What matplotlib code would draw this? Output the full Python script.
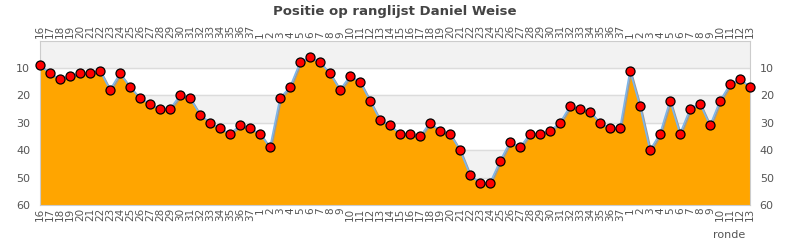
import numpy as np
import matplotlib.pyplot as plt

# rondes over drie seizoenen
rondes = [str(r) for r in range(16, 38)] + [str(r) for r in range(1, 38)] + [str(r) for r in range(1, 14)]

# positie op de ranglijst per ronde
positie = [9, 12, 14, 13, 12, 12, 11, 18, 12, 17, 21, 23, 25, 25, 20, 21, 27, 30, 32, 34, 31, 32,
           34, 39, 21, 17, 8, 6, 8, 12, 18, 13, 15, 22, 29, 31, 34, 34, 35, 30, 33, 34, 40, 49, 52,
           52, 44, 37, 39, 34, 34, 33, 30, 24, 25, 26, 30, 32, 32,
           11, 24, 40, 34, 22, 34, 25, 23, 31, 22, 16, 14, 17]

y_ticks = [10, 20, 30, 40, 50, 60]

x = np.arange(len(positie))
y = np.array(positie)

fig = plt.figure(figsize=(7.9, 2.5), dpi=100)
ax = fig.add_axes([40 / 790, 1 - 205 / 250, 710 / 790, 164.5 / 250])

# afwisselende banden
for lo in (0, 20, 40):
    ax.axhspan(lo, lo + 10, color='#f2f2f2', zorder=0)
for g in y_ticks[:-1]:
    ax.axhline(g, color='#dcdcdc', lw=1, zorder=1)

ax.fill_between(x, y, 60, color='#ffa500', zorder=2, lw=0)
ax.plot(x + 0.12, y + 0.4, color='#999999', lw=1.2, zorder=3)
ax.plot(x, y, color='#7cb5ec', lw=1.2, zorder=4)
ax.plot(x, y, 'o', ms=6.5, mfc='#ff0000', mec='black', mew=0.9, zorder=5, clip_on=False)

ax.set_xlim(0, len(positie) - 1)
ax.set_ylim(60, 0)
ax.set_yticks(y_ticks)
ax.set_xticks(x)
ax.set_xticklabels(rondes, rotation=90)
ax.tick_params(axis='both', length=0, labelsize=8, colors='#555555', labeltop=True, labelright=True)
ax.tick_params(axis='x', labelsize=7.5, pad=2)
ax.tick_params(axis='y', pad=7)
for s in ax.spines.values():
    s.set_color('#cccccc')

fig.text(0.5, 1 - 11 / 250, 'Positie op ranglijst Daniel Weise', ha='center', va='center',
         fontsize=9.5, fontweight='bold', color='#444444')
fig.text(745 / 790, 1 - 235 / 250, 'ronde', ha='right', va='center', fontsize=8, color='#555555')

fig.savefig('out.png', dpi=100)
